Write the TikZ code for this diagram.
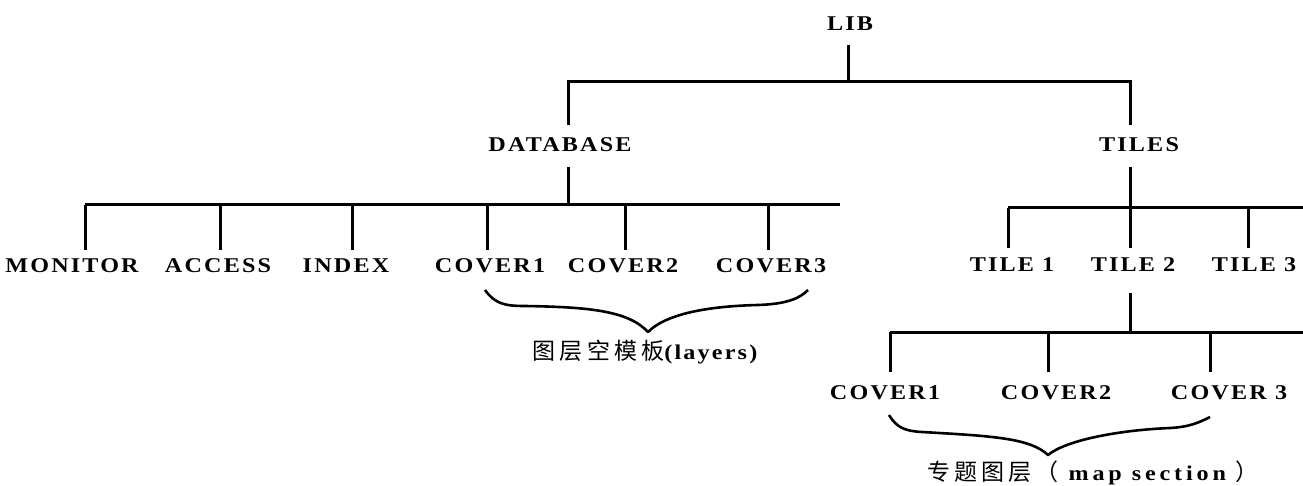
\documentclass[tikz,border=0pt]{standalone}
\usepackage{fontspec}
\usepackage{graphicx}
\setmainfont{Liberation Serif}
\newfontfamily\lab[LetterSpace=9]{Liberation Serif}
\newfontfamily\labw[LetterSpace=16]{Liberation Serif}
\newfontfamily\cjk[LetterSpace=18]{Noto Sans CJK SC}
\newcommand\wlab[1]{\scalebox{1.15}[1]{#1}}
\begin{document}
\begin{tikzpicture}[x=1pt,y=-1pt,
  lbl/.style={font=\lab\bfseries\fontsize{21}{24}\selectfont, inner sep=0pt},
  note/.style={font=\fontsize{21}{24}\selectfont, inner sep=0pt},
  ln/.style={line width=3pt},
  br/.style={line width=2.6pt, line join=round}]
\useasboundingbox (0,0) rectangle (1303,486);
% nodes
\node[lbl] (lib) at (850,24) {\wlab{LIB}};
\node[lbl] (database) at (560,145) {\wlab{DATABASE}};
\node[lbl] (tiles) at (1139,145) {\wlab{TILES}};
\node[lbl] (monitor) at (72,266) {\wlab{MONITOR}};
\node[lbl] (access) at (218,266) {\wlab{ACCESS}};
\node[lbl] (index) at (346,266) {\wlab{INDEX}};
\node[lbl] (cova) at (490,266) {\wlab{COVER1}};
\node[lbl] (covb) at (623,266) {\wlab{COVER2}};
\node[lbl] (covc) at (771,266) {\wlab{COVER3}};
\node[lbl] (tilea) at (1012,265) {\wlab{TILE 1}};
\node[lbl] (tileb) at (1133,265) {\wlab{TILE 2}};
\node[lbl] (tilec) at (1254,265) {\wlab{TILE 3}};
\node[lbl] (rca) at (885,393) {\wlab{COVER1}};
\node[lbl] (rcb) at (1056,393) {\wlab{COVER2}};
\node[lbl] (rcc) at (1229,393) {\wlab{COVER 3}};
\node[note] (layers) at (645,352) {{\cjk\fontsize{23}{24}\selectfont 图层空模板}\wlab{\lab\bfseries(layers)}};
\node[note] (mapsec) at (1093,473) {{\cjk\fontsize{23}{24}\selectfont 专题图层（}\wlab{\labw\bfseries\ map section\ }{\cjk\fontsize{23}{24}\selectfont ）}};
% bus coordinates
\coordinate (libdn) at (848,45);
\coordinate (bus0) at (848,82);
\coordinate (bus0l) at (568,82);
\coordinate (bus0r) at (1130,82);
\coordinate (dbup) at (568,125);
\coordinate (tlup) at (1130,125);
\coordinate (dbdn) at (568,167);
\coordinate (bus1m) at (568,205);
\coordinate (bus1l) at (85,205);
\coordinate (bus1r) at (840,205);
\coordinate (tldn) at (1130,167);
\coordinate (bus2m) at (1130,208);
\coordinate (bus2l) at (1008,208);
\coordinate (bus2r) at (1303,208);
\coordinate (t2dn) at (1130,293);
\coordinate (bus3m) at (1130,332);
\coordinate (bus3l) at (890,332);
\coordinate (bus3r) at (1303,332);
% connectors
\draw[ln] (libdn) -- (bus0);
\draw[ln] (dbup) -- (bus0l) -- (bus0r) -- (tlup);
\draw[ln] (dbdn) -- (bus1m);
\draw[ln] (bus1l) -- (bus1r);
\foreach \x in {85,220,352,487,625,768}
  \draw[ln] (\x,205) -- (\x,250);
\draw[ln] (tldn) -- (bus2m);
\draw[ln] (bus2l) -- (bus2r);
\foreach \x in {1008,1130,1248}
  \draw[ln] (\x,208) -- (\x,248);
\draw[ln] (t2dn) -- (bus3m);
\draw[ln] (bus3l) -- (bus3r);
\foreach \x in {890,1048,1210}
  \draw[ln] (\x,332) -- (\x,372);
% braces
\draw[br] (485,290) .. controls (495,304) and (505,306) .. (525,306)
  .. controls (585,307) and (628,310) .. (648,332)
  .. controls (668,312) and (715,306) .. (758,305)
  .. controls (788,304) and (800,298) .. (808,290);
\draw[br] (889,415) .. controls (897,428) and (905,431) .. (922,432)
  .. controls (992,436) and (1030,438) .. (1048,455)
  .. controls (1066,440) and (1120,430) .. (1170,428)
  .. controls (1190,427) and (1200,422) .. (1210,417);
\end{tikzpicture}
\end{document}
